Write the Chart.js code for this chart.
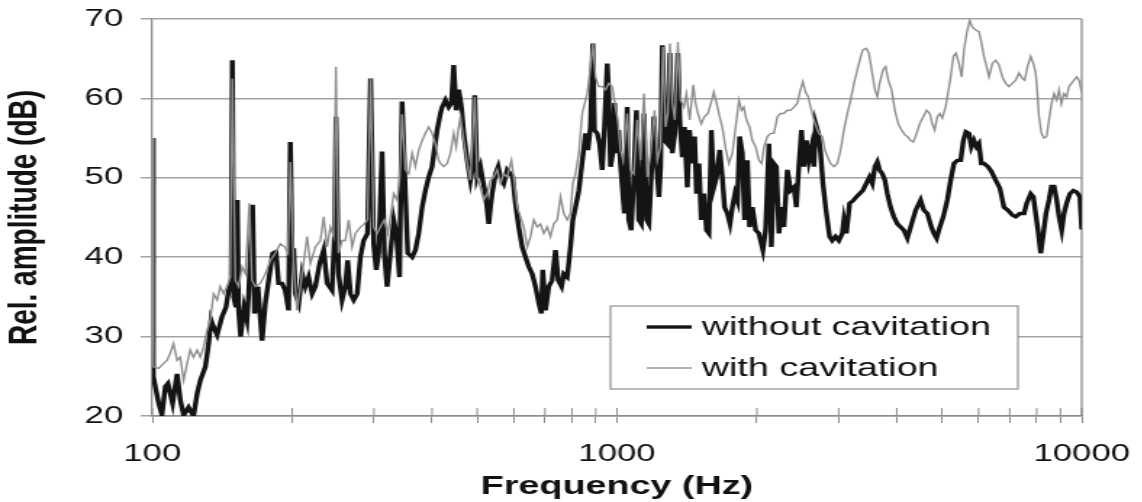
<!DOCTYPE html>
<html>
<head>
<meta charset="utf-8">
<script src="https://cdn.jsdelivr.net/npm/chart.js@4.4.1/dist/chart.umd.min.js"></script>
<style>
  html, body { margin: 0; padding: 0; background: #fff; overflow: hidden; }
  #marco { width: 1142px; height: 502px; overflow: hidden; }
  /* the source figure is stretched sideways, so the canvas is too */
  #grafico { display: block; transform: scaleX(1.45); transform-origin: 0 0; }
</style>
</head>
<body>
<div id="marco"><canvas id="grafico" width="788" height="502"></canvas></div>
<script>
// 👉 Datos
const freqSin = [
  100, 100.5, 101.5, 103.2, 104.9, 106.7, 108.1, 110.6, 113.1, 114.9, 116.8, 119.7, 122.7, 124.9, 126.9,
  130.1, 132.2, 133.8, 135.5, 137.9, 141.3, 144.1, 146.5, 147.9, 148.7, 149.7, 151.4, 152.4, 153.4, 154.9,
  157.6, 159.9, 161.2, 164.4, 166.0, 168.8, 172.3, 175.1, 178.0, 181.6, 184.6, 187.0, 190.2, 193.3, 196.5,
  198.2, 199.9, 201.5, 203.2, 206.6, 210.1, 213.5, 217.0, 220.8, 224.4, 229.2, 233.8, 237.8, 243.7, 246.8,
  248.5, 251.7, 256.1, 260.3, 263.3, 266.9, 271.3, 276.0, 280.4, 285.0, 290.6, 295.0, 299.5, 303.4, 307.0,
  312.2, 315.8, 320.1, 325.4, 330.8, 335.2, 340.5, 344.8, 350.5, 354.6, 362.4, 368.3, 374.4, 380.8, 387.1,
  393.5, 400.0, 410.1, 416.9, 420.4, 427.4, 434.4, 440.3, 445.3, 450.7, 456.5, 462.7, 468.0, 476.1, 483.7,
  489.3, 494.1, 500.1, 508.4, 514.2, 521.2, 529.8, 534.2, 538.7, 547.6, 555.0, 561.3, 570.6, 580.4, 589.8,
  596.6, 604.6, 614.6, 625.2, 635.5, 645.9, 656.9, 667.7, 678.8, 687.8, 692.3, 701.6, 713.2, 725.3, 737.3,
  747.2, 759.6, 768.3, 781.5, 794.3, 803.4, 814.2, 827.7, 845.9, 855.6, 865.5, 876.9, 887.0, 894.4, 906.7,
  917.7, 929.4, 940.0, 952.9, 960.3, 968.3, 979.4, 987.7, 997.3, 1008, 1017, 1029, 1037, 1052, 1060,
  1073, 1087, 1101, 1114, 1128, 1143, 1158, 1171, 1185, 1201, 1216, 1231, 1241, 1252, 1266,
  1283, 1300, 1315, 1332, 1352, 1365, 1382, 1397, 1417, 1432, 1452, 1469, 1483, 1501, 1518,
  1538, 1558, 1577, 1596, 1616, 1638, 1664, 1685, 1704, 1728, 1750, 1771, 1794, 1816, 1836,
  1861, 1882, 1908, 1929, 1956, 1988, 2020, 2060, 2088, 2123, 2149, 2176, 2203, 2231, 2260,
  2286, 2326, 2363, 2402, 2432, 2462, 2495, 2524, 2555, 2587, 2623, 2653, 2676, 2712, 2742,
  2774, 2811, 2835, 2867, 2906, 2953, 3002, 3054, 3078, 3116, 3166, 3219, 3274, 3327, 3381,
  3440, 3495, 3543, 3589, 3632, 3673, 3723, 3771, 3818, 3879, 3943, 4011, 4076, 4143, 4215,
  4284, 4391, 4501, 4575, 4654, 4747, 4808, 4872, 4950, 5037, 5139, 5224, 5310, 5402, 5489,
  5563, 5635, 5719, 5788, 5863, 5941, 6010, 6082, 6161, 6285, 6391, 6529, 6665, 6803, 6941,
  7093, 7210, 7360, 7513, 7613, 7766, 7871, 7961, 8069, 8161, 8271, 8378, 8504, 8606, 8718,
  8833, 8936, 9057, 9161, 9282, 9431, 9598, 9754, 9910, 10000
];
const dbSin = [
  55, 25, 23.7, 21.6, 20.1, 23.7, 24.1, 21.6, 25.3, 22.0, 20.1, 21.1, 20.0, 22.8, 24.5,
  26.2, 29.1, 32.1, 31.2, 30.2, 32.5, 33.7, 36.3, 37.1, 64.8, 35.0, 33.7, 47.2, 33.3, 30.0,
  33.7, 32.1, 35.4, 46.6, 32.9, 36.3, 29.5, 34.2, 37.1, 40.5, 40.7, 36.7, 36.7, 35.8, 33.3,
  54.5, 40.9, 40.9, 35.4, 34.2, 37.9, 36.3, 37.5, 35.4, 36.3, 39.2, 40.9, 36.7, 35.8, 43.0,
  57.7, 37.9, 34.6, 36.3, 39.6, 35.4, 34.6, 35.4, 40.0, 42.1, 43.0, 62.5, 41.7, 38.4, 40.5,
  53.3, 40.5, 36.3, 40.5, 44.7, 43.0, 37.5, 59.6, 48.0, 40.5, 40.0, 40.9, 43.0, 46.3, 48.4,
  50.1, 51.4, 56.0, 58.1, 58.9, 59.8, 58.9, 59.4, 64.2, 58.5, 61.1, 58.9, 55.6, 52.2, 49.7,
  51.4, 60.4, 50.1, 51.4, 49.7, 48.0, 44.2, 46.3, 48.0, 50.5, 51.4, 50.1, 49.3, 51.0, 50.5,
  50.1, 46.8, 43.8, 41.3, 40.0, 38.8, 37.9, 36.3, 34.2, 32.9, 38.4, 33.3, 36.3, 37.1, 40.9,
  37.1, 36.3, 37.9, 37.5, 41.3, 44.7, 46.3, 48.4, 53.1, 55.6, 53.5, 56.4, 66.9, 56.0, 55.6,
  54.3, 51.0, 56.4, 64.4, 60.2, 51.4, 53.1, 59.4, 53.1, 56.0, 51.8, 48.0, 45.5, 58.9, 44.7,
  43.4, 50.1, 58.5, 44.7, 44.2, 58.1, 44.7, 44.2, 50.1, 57.7, 51.8, 47.6, 51.4, 66.7, 54.7,
  54.3, 65.7, 53.1, 55.6, 65.7, 57.3, 52.6, 56.4, 48.8, 56.0, 51.8, 55.2, 48.0, 51.8, 44.7,
  48.0, 43.4, 43.0, 56.0, 48.8, 50.1, 53.5, 50.1, 46.3, 45.5, 44.2, 46.3, 48.0, 47.1, 55.2,
  53.1, 44.7, 52.2, 43.8, 46.3, 43.4, 43.0, 40.9, 43.4, 54.3, 41.3, 51.8, 51.4, 43.0, 46.3,
  43.8, 51.0, 48.4, 48.8, 46.3, 51.4, 56.0, 51.4, 54.7, 52.2, 53.9, 51.4, 56.8, 55.6, 53.1,
  49.3, 46.3, 44.7, 42.6, 42.1, 42.6, 42.1, 43.0, 44.7, 43.0, 46.8, 47.1, 47.6, 48.0, 48.4,
  49.3, 50.1, 49.3, 51.4, 52.0, 51.0, 50.5, 49.7, 48.0, 46.3, 45.1, 44.2, 43.8, 43.4, 42.4,
  43.8, 45.9, 47.2, 45.9, 45.5, 43.8, 43.0, 42.4, 43.8, 45.1, 47.2, 49.7, 51.8, 52.2, 52.2,
  54.7, 55.8, 55.6, 53.9, 54.7, 53.9, 54.3, 51.8, 51.8, 51.4, 50.8, 49.7, 48.7, 46.3, 45.9,
  45.3, 45.1, 45.5, 45.5, 46.8, 48.0, 47.6, 45.5, 43.0, 40.5, 43.0, 45.5, 47.2, 48.9, 48.9,
  47.2, 45.1, 43.4, 45.5, 46.8, 48.0, 48.4, 48.2, 47.6, 43.5
];

const freqCon = [
  100, 100.6, 103.2, 105.7, 107.6, 109.3, 111.1, 113.1, 114.9, 116.8, 118.8, 120.7, 122.7, 124.9, 126.9,
  129.0, 131.2, 133.3, 135.5, 137.9, 140.1, 142.4, 144.8, 147.2, 148.7, 150.9, 153.4, 156.0, 158.6, 161.8,
  163.9, 166.6, 170.8, 175.1, 179.5, 184.0, 188.6, 192.7, 195.9, 198.2, 201.5, 204.9, 210.1, 215.4, 218.9,
  224.4, 230.0, 233.8, 237.8, 241.6, 245.6, 248.5, 251.7, 256.1, 260.3, 264.6, 269.2, 273.6, 280.4, 286.0,
  290.6, 295.0, 299.5, 304.6, 309.6, 315.8, 321.2, 325.4, 330.8, 336.5, 340.5, 344.8, 350.5, 356.3, 362.4,
  368.3, 374.4, 380.8, 387.1, 393.5, 400.0, 406.6, 413.3, 416.9, 423.8, 431.1, 438.1, 445.3, 450.7, 455.4,
  460.4, 468.0, 476.1, 483.7, 494.1, 500.1, 508.4, 516.8, 525.7, 534.2, 543.0, 552.4, 561.3, 570.6, 580.4,
  592.7, 599.5, 609.9, 619.9, 630.1, 641.0, 651.4, 662.1, 673.5, 684.4, 695.7, 707.7, 719.2, 731.1, 743.7,
  755.8, 768.3, 781.5, 794.3, 803.4, 814.2, 827.7, 841.7, 848.4, 863.0, 876.9, 887.0, 898.9, 913.7, 929.4,
  944.7, 960.3, 976.5, 992.6, 1004, 1017, 1031, 1052, 1069, 1087, 1105, 1124, 1143, 1162, 1181,
  1205, 1221, 1241, 1255, 1272, 1287, 1300, 1315, 1332, 1352, 1370, 1393, 1411, 1434, 1459,
  1476, 1493, 1518, 1543, 1569, 1596, 1616, 1638, 1657, 1685, 1713, 1741, 1771, 1800, 1830,
  1854, 1875, 1899, 1929, 1956, 1988, 2020, 2047, 2071, 2106, 2141, 2176, 2214, 2249, 2286,
  2326, 2363, 2402, 2443, 2483, 2512, 2545, 2580, 2610, 2653, 2686, 2720, 2765, 2801, 2835,
  2881, 2929, 2979, 3028, 3078, 3131, 3182, 3235, 3290, 3343, 3381, 3440, 3483, 3531, 3589,
  3632, 3673, 3735, 3785, 3836, 3898, 3962, 4030, 4096, 4164, 4215, 4284, 4342, 4413, 4483,
  4562, 4636, 4710, 4770, 4825, 4891, 4950, 5012, 5095, 5154, 5224, 5295, 5363, 5443, 5516,
  5580, 5654, 5739, 5817, 5913, 6010, 6091, 6161, 6243, 6316, 6423, 6529, 6637, 6750, 6861,
  6974, 7093, 7210, 7328, 7454, 7539, 7642, 7766, 7871, 7961, 8030, 8092, 8190, 8296, 8406,
  8504, 8606, 8718, 8833, 8936, 9044, 9161, 9282, 9391, 9503, 9626, 9754, 9868, 10000
];
const dbCon = [
  55, 26.2, 26.0, 26.6, 27.0, 27.9, 29.1, 27.0, 27.4, 24.5, 26.6, 28.3, 27.4, 28.3, 27.4,
  28.7, 30.8, 32.1, 35.4, 34.6, 36.3, 35.4, 36.3, 37.5, 62.5, 37.1, 36.3, 38.8, 37.9, 46.8,
  37.1, 36.3, 36.7, 37.9, 39.6, 40.5, 41.7, 41.3, 40.5, 52.0, 39.0, 33.3, 37.9, 42.6, 39.2,
  41.3, 42.1, 45.1, 41.3, 43.8, 42.6, 64.0, 40.5, 42.1, 42.1, 44.7, 41.3, 43.0, 43.8, 44.2,
  44.7, 62.5, 43.8, 43.0, 43.8, 44.7, 43.0, 45.1, 48.0, 47.2, 49.7, 58.0, 51.0, 50.5, 53.1,
  51.4, 53.5, 54.7, 55.6, 56.4, 55.6, 54.3, 52.2, 51.8, 51.4, 51.8, 53.1, 55.6, 53.9, 56.0,
  57.7, 54.7, 51.8, 49.7, 60.2, 50.1, 48.8, 47.2, 48.0, 49.7, 50.1, 51.0, 49.3, 50.5, 50.1,
  52.2, 50.1, 46.3, 45.1, 43.8, 41.3, 42.6, 44.7, 43.8, 44.2, 43.0, 43.8, 42.6, 44.2, 44.7,
  47.6, 45.5, 44.7, 45.5, 49.3, 50.5, 53.1, 58.1, 58.9, 60.6, 64.0, 66.9, 62.7, 61.5, 61.5,
  61.1, 61.9, 61.5, 58.9, 57.3, 53.5, 52.2, 58.1, 51.0, 50.5, 57.3, 52.2, 60.6, 50.1, 53.1,
  58.5, 52.2, 53.9, 66.5, 56.4, 58.1, 66.9, 59.4, 57.3, 67.1, 59.8, 58.9, 60.6, 57.3, 61.7,
  59.4, 58.1, 56.8, 57.7, 58.1, 59.6, 60.8, 59.4, 58.1, 56.4, 53.7, 51.8, 53.1, 56.4, 59.8,
  58.5, 58.9, 57.3, 56.4, 54.7, 53.9, 52.2, 51.8, 53.9, 55.2, 55.6, 55.6, 57.7, 58.1, 58.1,
  58.5, 58.5, 58.9, 59.4, 61.1, 62.1, 60.8, 60.2, 58.9, 57.3, 56.4, 55.6, 55.2, 53.5, 52.7,
  51.8, 51.4, 51.8, 53.5, 56.0, 58.1, 59.8, 61.9, 63.6, 65.2, 66.1, 66.3, 65.7, 63.6, 61.1,
  60.2, 61.9, 63.6, 64.0, 62.3, 61.1, 58.5, 56.8, 56.0, 55.4, 55.2, 54.7, 54.5, 55.6, 56.8,
  57.7, 58.5, 58.1, 56.8, 56.0, 57.7, 58.1, 57.5, 58.9, 60.6, 62.7, 65.3, 65.7, 64.4, 62.7,
  66.1, 68.2, 69.8, 69.0, 68.6, 68.4, 66.9, 65.3, 64.0, 62.7, 64.4, 64.8, 64.2, 62.7, 61.9,
  61.5, 61.9, 62.3, 63.2, 62.5, 62.3, 64.0, 65.3, 64.4, 63.2, 60.6, 57.7, 55.6, 55.0, 55.2,
  57.3, 59.3, 60.6, 59.8, 61.1, 59.3, 60.6, 60.2, 61.5, 61.9, 62.3, 62.7, 62.3, 60.8
];

const series = ["without cavitation", "with cavitation"];
const xTicks = [100, 200, 300, 400, 500, 600, 700, 800, 900,
                1000, 2000, 3000, 4000, 5000, 6000, 7000, 8000, 9000, 10000];
const xLabelled = [100, 1000, 10000];
const yTicks = [20, 30, 40, 50, 60, 70];

const lineaEje = "#8c8c8c";

// 👉 Marco derecho, marcas internas del eje X y leyenda
const marcoYLeyenda = {
  id: "marcoYLeyenda",
  beforeDatasetsDraw(chart) {
    const { ctx, chartArea: a, scales: { x } } = chart;
    ctx.save();
    ctx.strokeStyle = lineaEje;
    ctx.lineWidth = 1.3;
    ctx.beginPath();
    ctx.moveTo(a.right, a.top);
    ctx.lineTo(a.right, a.bottom);
    ctx.stroke();
    ctx.lineWidth = 1;
    x.ticks.forEach(t => {
      const px = x.getPixelForValue(t.value);
      ctx.beginPath();
      ctx.moveTo(px, a.bottom - 8);
      ctx.lineTo(px, a.bottom);
      ctx.stroke();
    });
    ctx.restore();
  },
  afterDatasetsDraw(chart) {
    const { ctx, chartArea: a } = chart;
    const left = a.right - 325, top = a.bottom - 110, w = 281, h = 83;
    ctx.save();
    ctx.fillStyle = "#fff";
    ctx.fillRect(left, top, w, h);
    ctx.strokeStyle = "#9a9a9a";
    ctx.lineWidth = 1.3;
    ctx.strokeRect(left, top, w, h);
    chart.data.datasets.forEach((ds, i) => {
      const y = top + 21 + i * 41;
      ctx.strokeStyle = ds.borderColor;
      ctx.lineWidth = ds.borderWidth;
      ctx.beginPath();
      ctx.moveTo(left + 25, y);
      ctx.lineTo(left + 56, y);
      ctx.stroke();
      ctx.fillStyle = "#111";
      ctx.font = '26px "Liberation Sans", Arial, sans-serif';
      ctx.textBaseline = "middle";
      ctx.fillText(ds.label, left + 63, y + 1);
    });
    ctx.restore();
  }
};

Chart.defaults.font.family = '"Liberation Sans", Arial, sans-serif';
Chart.defaults.color = "#111";

new Chart(document.getElementById("grafico"), {
  type: "line",
  data: {
    datasets: [
      {
        label: series[0],
        data: freqSin.map((f, i) => ({ x: f, y: dbSin[i] })),
        borderColor: "#141414",
        borderWidth: 3.4,
        order: 1
      },
      {
        label: series[1],
        data: freqCon.map((f, i) => ({ x: f, y: dbCon[i] })),
        borderColor: "#8e8e8e",
        borderWidth: 1.4,
        order: 0
      }
    ]
  },
  options: {
    responsive: false,
    animation: false,
    devicePixelRatio: 1,
    layout: { padding: { top: 19, right: 42, bottom: 0, left: 0 } },
    elements: { point: { radius: 0 }, line: { tension: 0, fill: false } },
    plugins: { legend: { display: false }, tooltip: { enabled: false } },
    scales: {
      x: {
        type: "logarithmic",
        min: 100,
        max: 10000,
        afterBuildTicks: s => { s.ticks = xTicks.map(v => ({ value: v, major: xLabelled.includes(v) })); },
        afterFit: s => { s.height = 86; s.paddingLeft = 0; s.paddingRight = 0; },
        grid: { drawOnChartArea: false, drawTicks: true, tickLength: 7, color: lineaEje, lineWidth: 1 },
        border: { color: lineaEje, width: 1.5 },
        ticks: {
          autoSkip: false,
          maxRotation: 0,
          padding: 17,
          font: { size: 24 },
          callback: v => xLabelled.includes(v) ? String(v) : ""
        },
        title: {
          display: true,
          text: "Frequency (Hz)",
          font: { size: 26, weight: "bold" },
          padding: { top: 0, bottom: 0 }
        }
      },
      y: {
        min: 20,
        max: 70,
        afterBuildTicks: s => { s.ticks = yTicks.map(v => ({ value: v })); },
        afterFit: s => { s.width = 105; s.paddingTop = 0; s.paddingBottom = 0; },
        grid: { color: "#a3a3a3", lineWidth: 1.5, tickLength: 8 },
        border: { color: lineaEje, width: 1.3 },
        ticks: { padding: 12, font: { size: 24 } },
        title: {
          display: true,
          text: "Rel. amplitude (dB)",
          font: { size: 28, weight: "bold" },
          padding: { top: 0, bottom: 0 }
        }
      }
    }
  },
  plugins: [marcoYLeyenda]
});
</script>
</body>
</html>
